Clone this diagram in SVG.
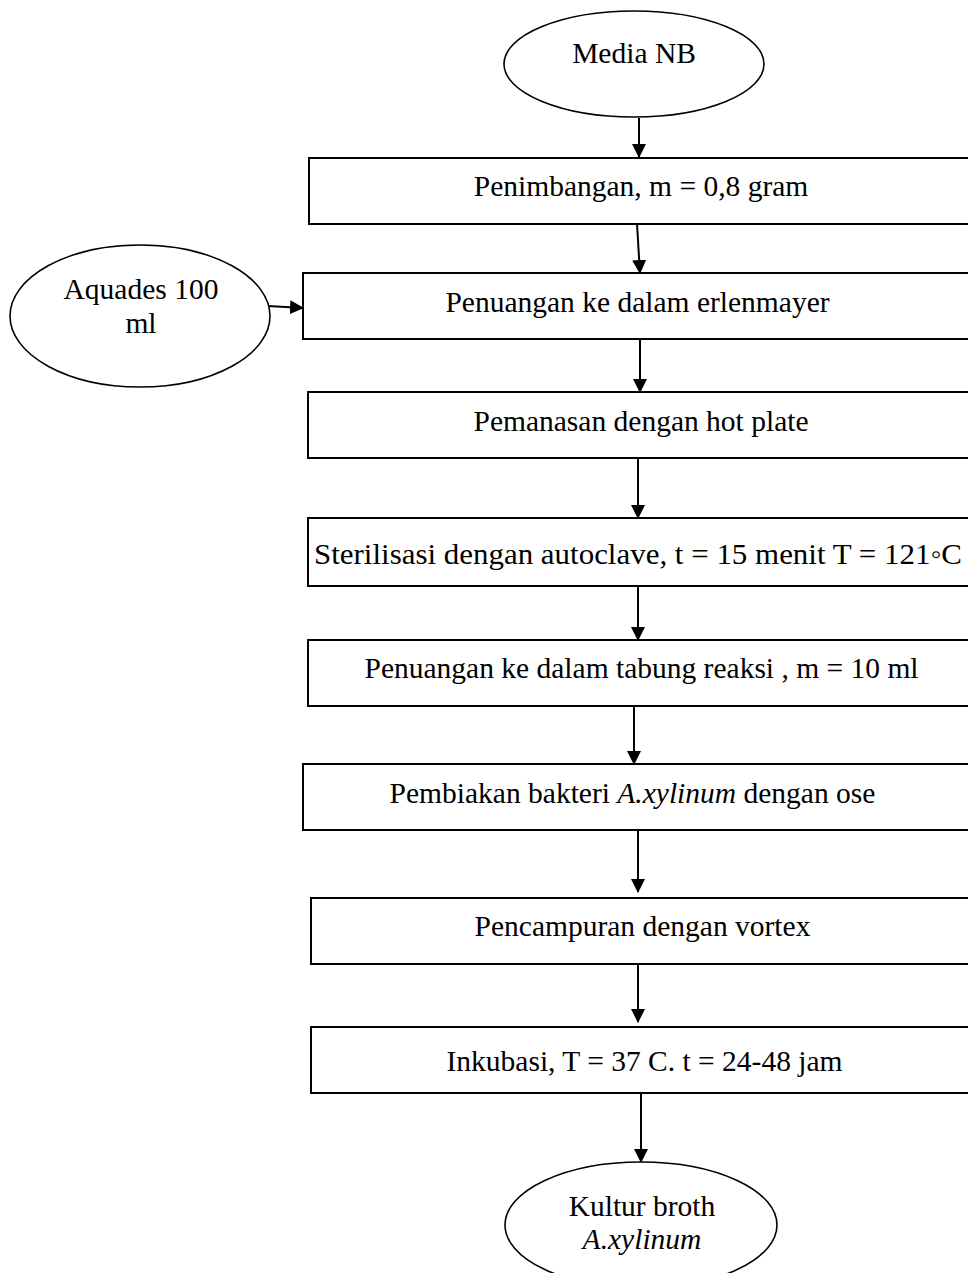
<svg xmlns="http://www.w3.org/2000/svg" width="968" height="1273" viewBox="0 0 968 1273">
  <defs>
    <marker id="arrow" markerWidth="14" markerHeight="14" refX="13" refY="7" orient="auto" markerUnits="userSpaceOnUse">
      <path d="M0,0 L14,7 L0,14 Z" fill="#000"/>
    </marker>
  </defs>
  <style>
    .box { fill: #fff; stroke: #000; stroke-width: 2; }
    .oval { fill: #fff; stroke: #000; stroke-width: 1.6; }
    .lbl { font-family: "Liberation Serif", "Times New Roman", serif; font-size: 29.5px; fill: #000; text-anchor: middle; }
    .edge { stroke: #000; stroke-width: 2; fill: none; marker-end: url(#arrow); }
  </style>
  <rect width="968" height="1273" fill="#fff"/>

  <g id="connectors">
    <line class="edge" x1="639" y1="118" x2="639" y2="157"/>
    <line class="edge" x1="637" y1="224" x2="640" y2="273"/>
    <line class="edge" x1="268" y1="306" x2="303" y2="308"/>
    <line class="edge" x1="640" y1="339" x2="640" y2="392"/>
    <line class="edge" x1="638" y1="458" x2="638" y2="518"/>
    <line class="edge" x1="638" y1="586" x2="638" y2="640"/>
    <line class="edge" x1="634" y1="706" x2="634" y2="764"/>
    <line class="edge" x1="638" y1="830" x2="638" y2="892"/>
    <line class="edge" x1="638" y1="964" x2="638" y2="1022"/>
    <line class="edge" x1="641" y1="1093" x2="641" y2="1162"/>
  </g>

  <g id="media-nb">
    <ellipse class="oval" cx="634" cy="64" rx="130" ry="53"/>
    <text class="lbl" x="634" y="63">Media NB</text>
  </g>

  <g id="penimbangan">
    <rect class="box" x="309" y="158" width="670" height="66"/>
    <text class="lbl" x="641" y="196">Penimbangan, m = 0,8 gram</text>
  </g>

  <g id="aquades">
    <ellipse class="oval" cx="140" cy="316" rx="130" ry="71"/>
    <text class="lbl" x="141" y="299">Aquades 100</text>
    <text class="lbl" x="141" y="333">ml</text>
  </g>

  <g id="penuangan-erlenmayer">
    <rect class="box" x="303" y="273" width="676" height="66"/>
    <text class="lbl" x="637.5" y="312">Penuangan ke dalam erlenmayer</text>
  </g>

  <g id="pemanasan">
    <rect class="box" x="308" y="392" width="671" height="66"/>
    <text class="lbl" x="641" y="431">Pemanasan dengan hot plate</text>
  </g>

  <g id="sterilisasi">
    <rect class="box" x="308" y="518" width="671" height="68"/>
    <text class="lbl" x="638" y="564" textLength="648" lengthAdjust="spacingAndGlyphs">Sterilisasi dengan autoclave, t = 15 menit T = 121◦C</text>
  </g>

  <g id="penuangan-tabung">
    <rect class="box" x="308" y="640" width="671" height="66"/>
    <text class="lbl" x="641.5" y="678">Penuangan ke dalam tabung reaksi , m = 10 ml</text>
  </g>

  <g id="pembiakan">
    <rect class="box" x="303" y="764" width="676" height="66"/>
    <text class="lbl" x="632.5" y="803">Pembiakan bakteri <tspan font-style="italic">A.xylinum</tspan> dengan ose</text>
  </g>

  <g id="pencampuran">
    <rect class="box" x="311" y="898" width="668" height="66"/>
    <text class="lbl" x="642.5" y="936">Pencampuran dengan vortex</text>
  </g>

  <g id="inkubasi">
    <rect class="box" x="311" y="1027" width="668" height="66"/>
    <text class="lbl" x="644.5" y="1071">Inkubasi, T = 37 C. t = 24-48 jam</text>
  </g>

  <g id="kultur-broth">
    <ellipse class="oval" cx="641" cy="1225" rx="136" ry="63"/>
    <text class="lbl" x="642" y="1216">Kultur broth</text>
    <text class="lbl" x="642" y="1249" font-style="italic">A.xylinum</text>
  </g>
</svg>
